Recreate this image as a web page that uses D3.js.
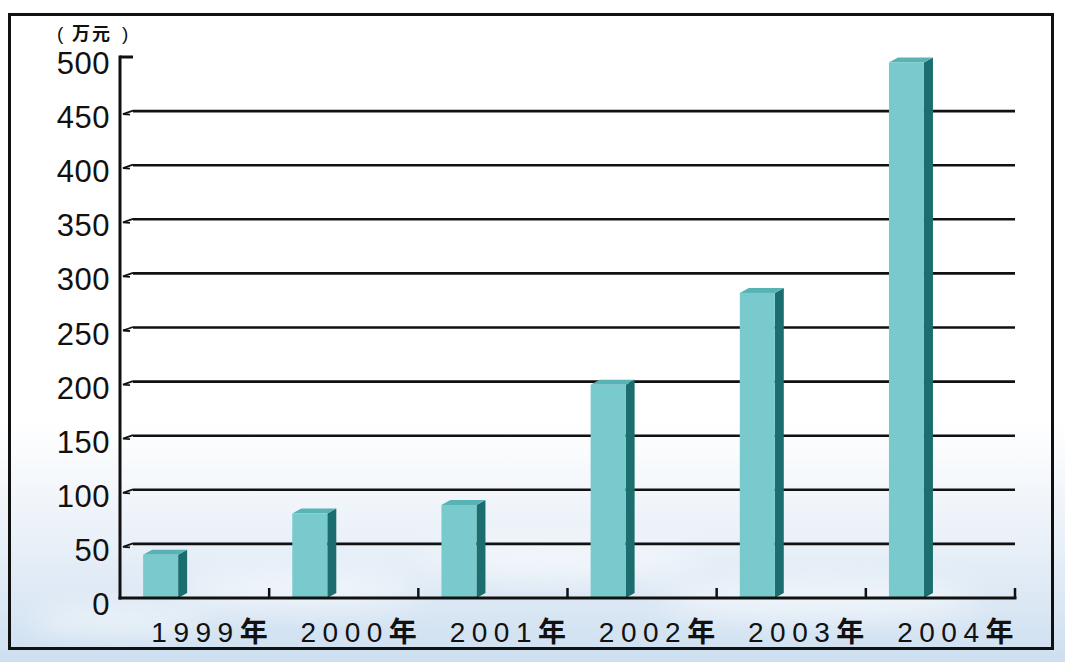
<!DOCTYPE html>
<html><head><meta charset="utf-8">
<script src="https://cdn.jsdelivr.net/npm/d3@7"></script>
<style>html,body{margin:0;padding:0;background:#fff;}svg{display:block;}</style>
</head><body>
<svg id="chart" width="1065" height="662"></svg>
<script>
const categories = ["1999年","2000年","2001年","2002年","2003年","2004年"];
const values = [40, 78, 86, 197, 282, 495];
const yTicks = [0,50,100,150,200,250,300,350,400,450,500];
const unitLabel = "万元";

const svg = d3.select("#chart");
const defs = svg.append("defs");
const g1 = defs.append("linearGradient").attr("id","bg").attr("x1",0).attr("y1",0).attr("x2",0).attr("y2",1);
g1.append("stop").attr("offset","0%").attr("stop-color","#ffffff");
g1.append("stop").attr("offset","64%").attr("stop-color","#ffffff");
g1.append("stop").attr("offset","82%").attr("stop-color","#e9f0f8");
g1.append("stop").attr("offset","100%").attr("stop-color","#cddff0");
const blur = defs.append("filter").attr("id","blur").attr("x","-50%").attr("y","-50%").attr("width","200%").attr("height","200%");
blur.append("feGaussianBlur").attr("stdDeviation",14);

svg.append("rect").attr("width",1065).attr("height",662).attr("fill","url(#bg)");
[[300,590,120,18],[560,560,140,16],[820,600,160,20],[120,620,90,14]].forEach(c=>{
  svg.append("ellipse").attr("cx",c[0]).attr("cy",c[1]).attr("rx",c[2]).attr("ry",c[3])
    .attr("fill","#ffffff").attr("opacity",0.55).attr("filter","url(#blur)");
});

svg.append("rect").attr("x",9.5).attr("y",14.5).attr("width",1043).attr("height",634)
  .attr("fill","none").attr("stroke","#111").attr("stroke-width",3);

const x0 = 120, x1 = 1015;
const x = d3.scaleBand().domain(categories).range([x0, x1]).padding(0);
const y = d3.scaleLinear().domain([0, 500]).range([598, 57]);

yTicks.filter(t => t > 0 && t < 500).forEach(t => {
  const yy = y(t);
  svg.append("line").attr("x1",133).attr("x2",x1).attr("y1",yy).attr("y2",yy)
    .attr("stroke","#111").attr("stroke-width",2.6);
  svg.append("path").attr("d",`M133,${yy-0.5} L123,${yy+3} L130,${yy+3.5}`)
    .attr("fill","none").attr("stroke","#111").attr("stroke-width",1.8);
});
svg.append("line").attr("x1",x0).attr("x2",133).attr("y1",y(500)).attr("y2",y(500))
  .attr("stroke","#111").attr("stroke-width",3);
svg.append("line").attr("x1",x0).attr("x2",x0).attr("y1",y(500)-1.5).attr("y2",y(0)+1.5)
  .attr("stroke","#111").attr("stroke-width",3);

const bw = 35, dx = 9, dy = 5;
const bars = svg.append("g");
categories.forEach((c,i) => {
  const bx = x(c) + x.bandwidth()*0.155;
  const top = y(values[i]), base = y(0);
  bars.append("path").attr("d",`M${bx+bw},${top} L${bx+bw+dx},${top-dy} L${bx+bw+dx},${base-dy} L${bx+bw},${base} Z`)
    .attr("fill","#1c6d6e");
  bars.append("path").attr("d",`M${bx},${top} L${bx+dx},${top-dy} L${bx+bw+dx},${top-dy} L${bx+bw},${top} Z`)
    .attr("fill","#58b3b4");
  bars.append("rect").attr("x",bx).attr("y",top).attr("width",bw).attr("height",base-top)
    .attr("fill","#78cacd");
});

svg.append("line").attr("x1",x0-1.5).attr("x2",x1+1.5).attr("y1",y(0)).attr("y2",y(0))
  .attr("stroke","#111").attr("stroke-width",3);
categories.forEach(c => {
  const tx = x(c) + x.bandwidth();
  svg.append("line").attr("x1",tx).attr("x2",tx).attr("y1",y(0)).attr("y2",y(0)-10)
    .attr("stroke","#111").attr("stroke-width",2.5);
});

categories.forEach(c => {
  const t = svg.append("text").attr("x", x(c) + x.bandwidth() + 5).attr("y", 642)
    .attr("text-anchor","end")
    .attr("font-family","'Liberation Sans', Arial, 'Noto Sans CJK SC', sans-serif")
    .attr("font-size",28).attr("letter-spacing","6.5px").attr("fill","#111");
  t.append("tspan").text(c.slice(0, -1));
  t.append("tspan").attr("font-family","'Noto Sans CJK SC', sans-serif").attr("font-weight","bold").text(c.slice(-1));
});

yTicks.forEach(t => {
  svg.append("text").attr("x",110).attr("y",y(t)+17)
    .attr("text-anchor","end")
    .attr("font-family","'Liberation Sans', Arial, sans-serif")
    .attr("font-size",31).attr("letter-spacing","0.5px").attr("fill","#111")
    .text(t);
});

const uf = "'Liberation Sans', Arial, sans-serif";
svg.append("text").attr("x",57).attr("y",40).attr("font-family",uf).attr("font-size",19).attr("fill","#111").text("(");
svg.append("text").attr("x",72).attr("y",40).attr("font-family","'Noto Sans CJK SC', sans-serif")
  .attr("font-weight","bold").attr("font-size",18).attr("letter-spacing","2px").attr("fill","#111").text(unitLabel);
svg.append("text").attr("x",122).attr("y",40).attr("font-family",uf).attr("font-size",19).attr("fill","#111").text(")");
</script>
</body></html>
